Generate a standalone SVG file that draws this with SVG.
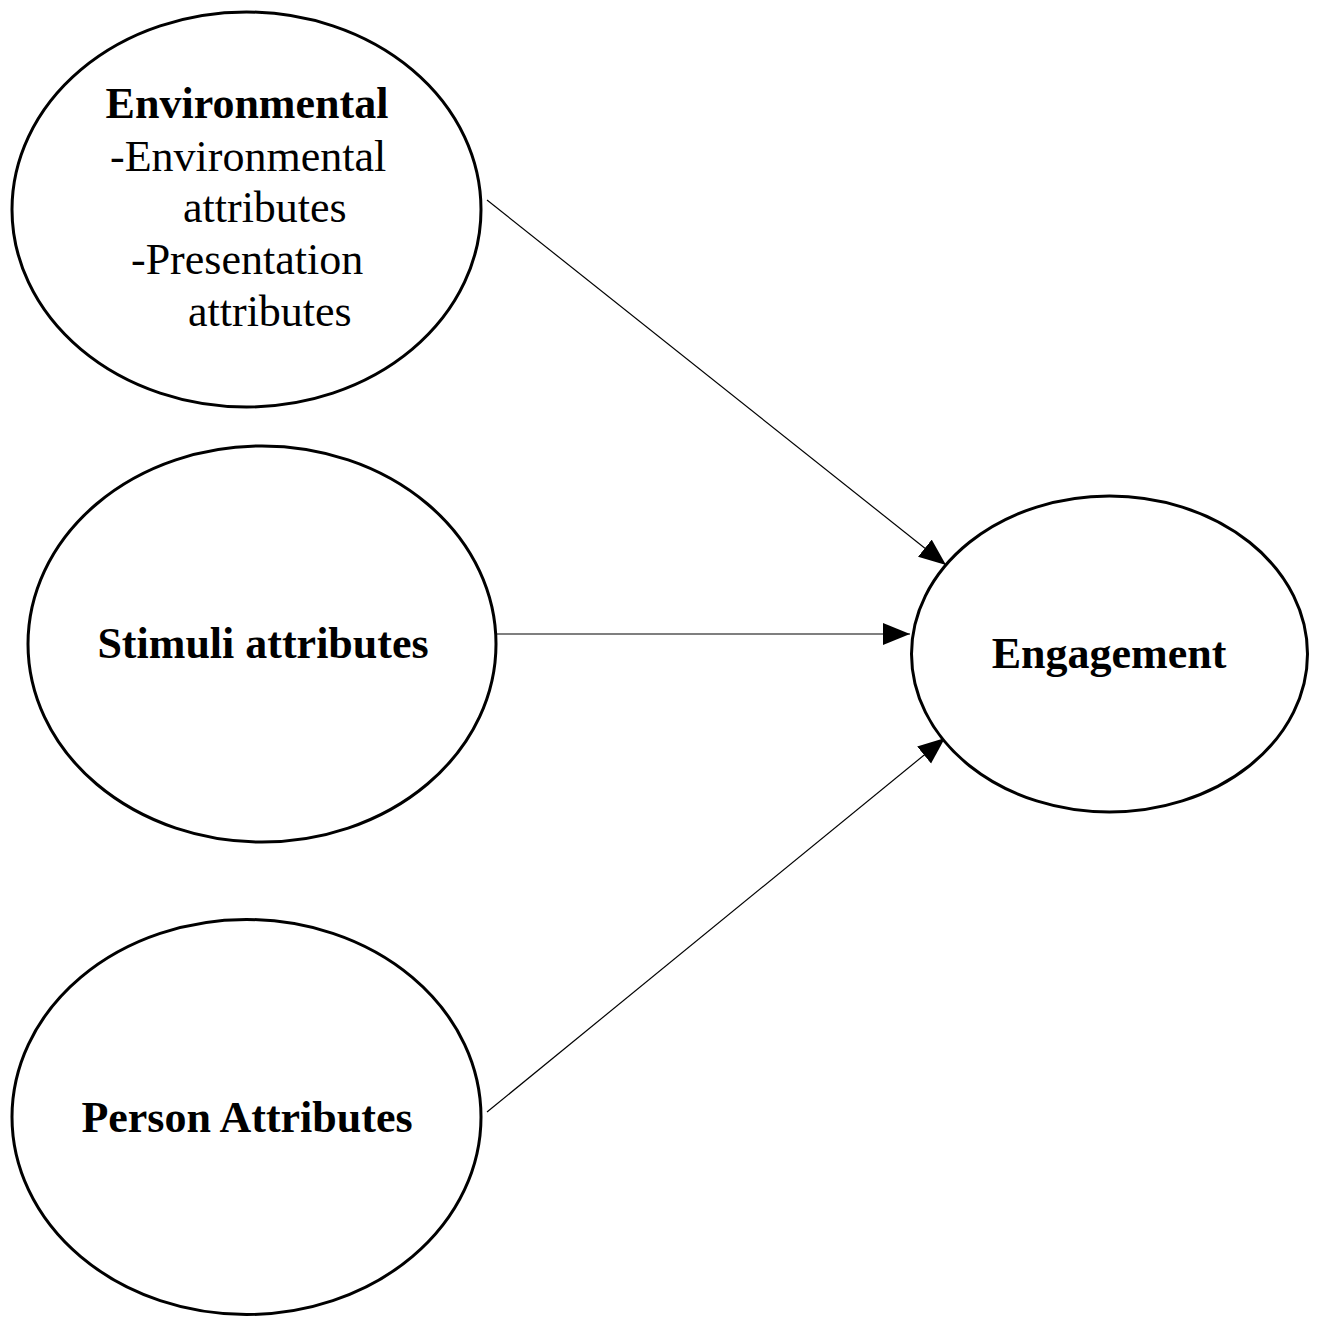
<svg xmlns="http://www.w3.org/2000/svg" width="1318" height="1317" viewBox="0 0 1318 1317">
  <style>
    .node { fill: #ffffff; stroke: #000000; stroke-width: 3; }
    .edge { fill: none; stroke: #000000; stroke-width: 1.2; }
    .lbl { font-family: "Liberation Serif", "Times New Roman", serif; font-size: 44px; fill: #000000; }
    .b { font-weight: bold; }
  </style>
  <defs>
    <marker id="arrow" markerUnits="userSpaceOnUse" markerWidth="28" markerHeight="24" refX="27" refY="11" orient="auto">
      <path d="M0,0 L27,11 L0,22 Z" fill="#000000"/>
    </marker>
  </defs>
  <rect width="1318" height="1317" fill="#ffffff"/>

  <g id="connectors">
    <line class="edge" x1="487" y1="200" x2="946" y2="565" marker-end="url(#arrow)"/>
    <line class="edge" x1="497" y1="634" x2="910" y2="634" marker-end="url(#arrow)"/>
    <line class="edge" x1="487" y1="1112" x2="945" y2="738" marker-end="url(#arrow)"/>
  </g>

  <g id="environmental">
    <ellipse class="node" cx="246.5" cy="209.5" rx="234.5" ry="197.5"/>
    <text class="lbl b" x="247" y="118" text-anchor="middle">Environmental</text>
    <text class="lbl" x="110" y="171">-Environmental</text>
    <text class="lbl" x="183" y="222">attributes</text>
    <text class="lbl" x="131" y="274">-Presentation</text>
    <text class="lbl" x="188" y="326">attributes</text>
  </g>

  <g id="stimuli">
    <ellipse class="node" cx="262" cy="644" rx="234" ry="198"/>
    <text class="lbl b" x="263" y="658" text-anchor="middle">Stimuli attributes</text>
  </g>

  <g id="person">
    <ellipse class="node" cx="246.5" cy="1117" rx="234.5" ry="197.5"/>
    <text class="lbl b" x="247" y="1132" text-anchor="middle">Person Attributes</text>
  </g>

  <g id="engagement">
    <ellipse class="node" cx="1109.5" cy="654" rx="198" ry="158"/>
    <text class="lbl b" x="1109" y="668" text-anchor="middle">Engagement</text>
  </g>
</svg>
